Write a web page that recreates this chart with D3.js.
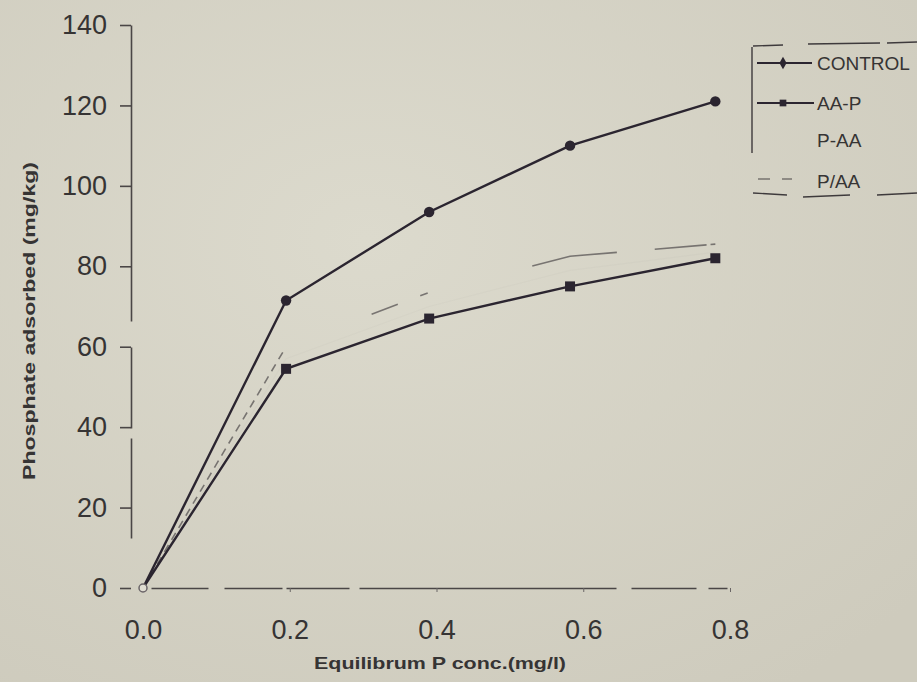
<!DOCTYPE html>
<html>
<head>
<meta charset="utf-8">
<script src="https://cdn.jsdelivr.net/npm/d3@7"></script>
<style>
  html, body { margin: 0; padding: 0; background: #d4d1c3; }
  svg { display: block; }
  text { font-family: "Liberation Sans", Arial, sans-serif; }
</style>
</head>
<body>
<svg id="chart" width="917" height="682"></svg>
<script>
// ---- data ----
const xValues   = [0, 0.195, 0.39, 0.582, 0.78];
const controlY  = [0, 71.5, 93.5, 110, 121];
const aapY      = [0, 54.5, 67, 75, 82];
const paaY      = [0, 57, 70, 79, 83.5];     // P-AA (practically invisible in the print)
const pslashY   = [0, 60, 73.5, 82.5, 85.5]; // P/AA dashed
const seriesNames = ["CONTROL", "AA-P", "P-AA", "P/AA"];
const xTicks = [0, 0.2, 0.4, 0.6, 0.8];
const yTicks = [0, 20, 40, 60, 80, 100, 120, 140];
const xTitle = "Equilibrum P conc.(mg/l)";
const yTitle = "Phosphate adsorbed (mg/kg)";

const svg = d3.select("#chart");
const ink = "#2b2530";
const textCol = "#363434";
const axisCol = "#4a4646";

// soft paper shading
const defs = svg.append("defs");
const grad = defs.append("radialGradient").attr("id", "paper")
  .attr("cx", "40%").attr("cy", "35%").attr("r", "80%");
grad.append("stop").attr("offset", "0%").attr("stop-color", "#dcdacd");
grad.append("stop").attr("offset", "100%").attr("stop-color", "#cecbbd");
svg.append("rect").attr("width", 917).attr("height", 682).attr("fill", "url(#paper)");

const x = d3.scaleLinear().domain([0, 0.8]).range([143, 730]);
const y = d3.scaleLinear().domain([0, 140]).range([588, 25]);

// ---- y axis ----
const yAxis = svg.append("g").attr("transform", "translate(131,0)")
  .call(d3.axisLeft(y).tickValues(yTicks).tickFormat(d3.format("d"))
    .tickSize(11).tickSizeOuter(0).tickPadding(13));
yAxis.select(".domain").attr("stroke", axisCol).attr("stroke-width", 1.6)
  .attr("stroke-dasharray", "0,50,100,10,81,26,320");
yAxis.selectAll(".tick line").attr("stroke", axisCol).attr("stroke-width", 1.6);
yAxis.selectAll(".tick text").attr("font-size", 27).attr("fill", textCol)
  .style("font-family", "'Liberation Sans', Arial, sans-serif");

// ---- x axis ----
const xAxis = svg.append("g").attr("transform", "translate(0,588)")
  .call(d3.axisBottom(x).tickValues(xTicks).tickFormat(d3.format(".1f"))
    .tickSize(4).tickSizeOuter(0).tickPadding(28));
xAxis.select(".domain").attr("stroke", axisCol).attr("stroke-width", 1.6)
  .attr("stroke-dasharray", "0,8,57,16,58,4,63,10,257,15,65,12,19,50");
xAxis.selectAll(".tick line").attr("stroke", "#6a6666").attr("stroke-width", 1);
xAxis.selectAll(".tick text").attr("font-size", 27).attr("fill", textCol)
  .style("font-family", "'Liberation Sans', Arial, sans-serif");

// ---- titles ----
svg.append("text").attr("x", 440).attr("y", 669).attr("text-anchor", "middle")
  .attr("font-size", 17).attr("font-weight", "bold").attr("fill", textCol)
  .attr("textLength", 252).attr("lengthAdjust", "spacingAndGlyphs").text(xTitle);
svg.append("text").attr("transform", "translate(35,321) rotate(-90)").attr("text-anchor", "middle")
  .attr("font-size", 17).attr("font-weight", "bold").attr("fill", textCol)
  .attr("textLength", 318).attr("lengthAdjust", "spacingAndGlyphs").text(yTitle);

// ---- lines ----
const line = d3.line().x(d => x(d[0])).y(d => y(d[1]));
const pts = ys => xValues.map((v, i) => [v, ys[i]]);

// faded-print dash pattern for P/AA: fine dashes up to 0.2, then sparse fragments
const fineDash = Array(19).fill("8,6").join(",");
const pslashDash = fineDash + ",8,98,28,24,8,108,86,38,52,4,5,40";

svg.append("path").datum(pts(paaY)).attr("d", line).attr("fill", "none")
  .attr("stroke", "#8a867c").attr("stroke-opacity", 0.04).attr("stroke-width", 1.2);
svg.append("path").datum(pts(pslashY)).attr("d", line).attr("fill", "none")
  .attr("stroke", "#4e4a4c").attr("stroke-width", 1.6).attr("stroke-opacity", 0.7)
  .attr("stroke-dasharray", pslashDash);
svg.append("path").datum(pts(aapY)).attr("d", line).attr("fill", "none")
  .attr("stroke", ink).attr("stroke-width", 2.4);
svg.append("path").datum(pts(controlY)).attr("d", line).attr("fill", "none")
  .attr("stroke", ink).attr("stroke-width", 2.4);

// markers
svg.append("g").selectAll("path").data(pts(controlY).slice(1)).join("path")
  .attr("transform", d => `translate(${x(d[0])},${y(d[1])})`)
  .attr("d", d3.symbol().type(d3.symbolCircle).size(85)).attr("fill", ink);
svg.append("g").selectAll("path").data(pts(aapY).slice(1)).join("path")
  .attr("transform", d => `translate(${x(d[0])},${y(d[1])})`)
  .attr("d", d3.symbol().type(d3.symbolSquare).size(100)).attr("fill", ink);
// origin marker (hollow)
svg.append("circle").attr("cx", x(0)).attr("cy", y(0)).attr("r", 4)
  .attr("fill", "#e0ddd2").attr("stroke", "#6a6468").attr("stroke-width", 1.5);

// ---- legend ----
const lg = svg.append("g");
const frame = "#3e3a3c";
[[753,46,783,45],[808,44,880,43],[887,43,917,42],[752,47,752,153],
 [753,193,787,195],[803,197,850,195],[877,195,917,193]].forEach(s => {
  lg.append("line").attr("x1", s[0]).attr("y1", s[1]).attr("x2", s[2]).attr("y2", s[3])
    .attr("stroke", frame).attr("stroke-width", 1.4);
});
const legendY = [63, 103, 140, 181];
seriesNames.forEach((n, i) => {
  lg.append("text").attr("x", 817).attr("y", legendY[i]).attr("dy", "0.35em")
    .attr("font-size", 19).attr("fill", textCol).text(n);
});
lg.append("line").attr("x1", 757).attr("x2", 812).attr("y1", legendY[0]).attr("y2", legendY[0])
  .attr("stroke", ink).attr("stroke-width", 2);
lg.append("path").attr("transform", `translate(783,${legendY[0]})`)
  .attr("d", d3.symbol().type(d3.symbolDiamond).size(45)).attr("fill", ink);
lg.append("line").attr("x1", 757).attr("x2", 814).attr("y1", legendY[1]).attr("y2", legendY[1])
  .attr("stroke", ink).attr("stroke-width", 2);
lg.append("path").attr("transform", `translate(783,${legendY[1]})`)
  .attr("d", d3.symbol().type(d3.symbolSquare).size(45)).attr("fill", ink);
lg.append("line").attr("x1", 758).attr("x2", 792).attr("y1", legendY[3] - 2).attr("y2", legendY[3] - 2)
  .attr("stroke", "#4e4a4c").attr("stroke-width", 1.5).attr("stroke-opacity", 0.7)
  .attr("stroke-dasharray", "12,12");
</script>
</body>
</html>
